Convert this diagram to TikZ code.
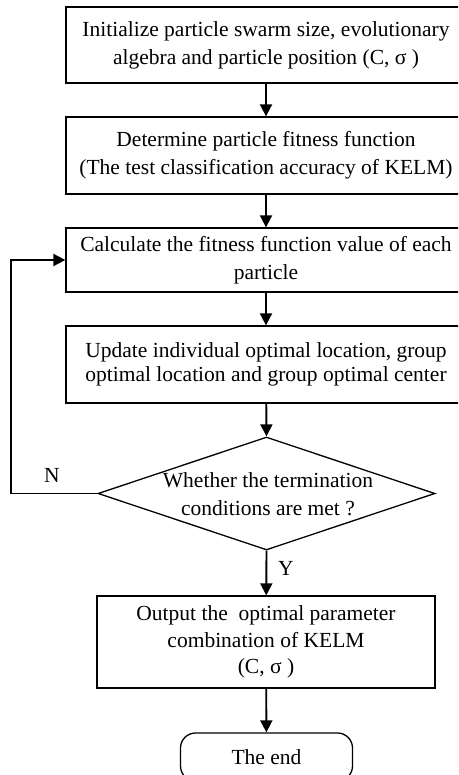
\documentclass[tikz,border=0pt]{standalone}
\usepackage{fontspec}
\setmainfont{Liberation Serif}
\usetikzlibrary{shapes.geometric,arrows.meta}
\begin{document}
\begin{tikzpicture}[x=1pt,y=-1pt,
  txt/.style={font=\fontsize{21.5}{28}\selectfont,inner sep=0pt,align=center},
  box/.style={txt,draw,line width=1.3pt,minimum width=400pt},
  flow/.style={line width=1.9pt,-{Triangle[width=12pt,length=12pt]}},
  link/.style={line width=1.9pt}]
\clip (0,0) rectangle (458,775);
\node[box,minimum height=76pt] (b1) at (266,45) {Initialize particle swarm size, evolutionary\\algebra and particle position (C, σ )};
\node[box,minimum height=77pt] (b2) at (266,155.5) {Determine particle fitness function\\(The test classification accuracy of KELM)};
\node[box,minimum height=64pt] (b3) at (266,260) {Calculate the fitness function value of each\\particle};
\node[box,minimum height=77pt,font=\fontsize{21.5}{24}\selectfont] (b4) at (266,364.5) {Update individual optimal location, group\\optimal location and group optimal center};
\node[diamond,draw,line width=1.3pt,minimum width=337pt,minimum height=113pt,inner sep=0pt] (dia) at (266.5,493.5) {};
\node[txt] (diat) at (268,494) {Whether the termination\\conditions are met ?};
\node[box,minimum width=338pt,minimum height=92pt,font=\fontsize{21.5}{26.5}\selectfont] (b5) at (266,642) {Output the\ \ optimal parameter\\combination of KELM\\(C, σ )};
\node[txt,draw,line width=1.3pt,minimum width=172pt,minimum height=48pt,rounded corners=15pt] (end) at (266.5,757) {The end};
\draw[flow] (b1) -- (b2);
\draw[flow] (b2) -- (b3);
\draw[flow] (b3) -- (b4);
\draw[flow] (b4) -- (dia.north);
\draw[flow] (dia.south) -- (b5);
\draw[flow] (b5) -- (end);
\coordinate (lp) at (11,493.5);
\draw[flow] (dia.west) -- (lp) |- (b3.west);
\node[txt] (n) at (52,475) {N};
\node[txt] (y) at (286,568) {Y};
\end{tikzpicture}
\end{document}
